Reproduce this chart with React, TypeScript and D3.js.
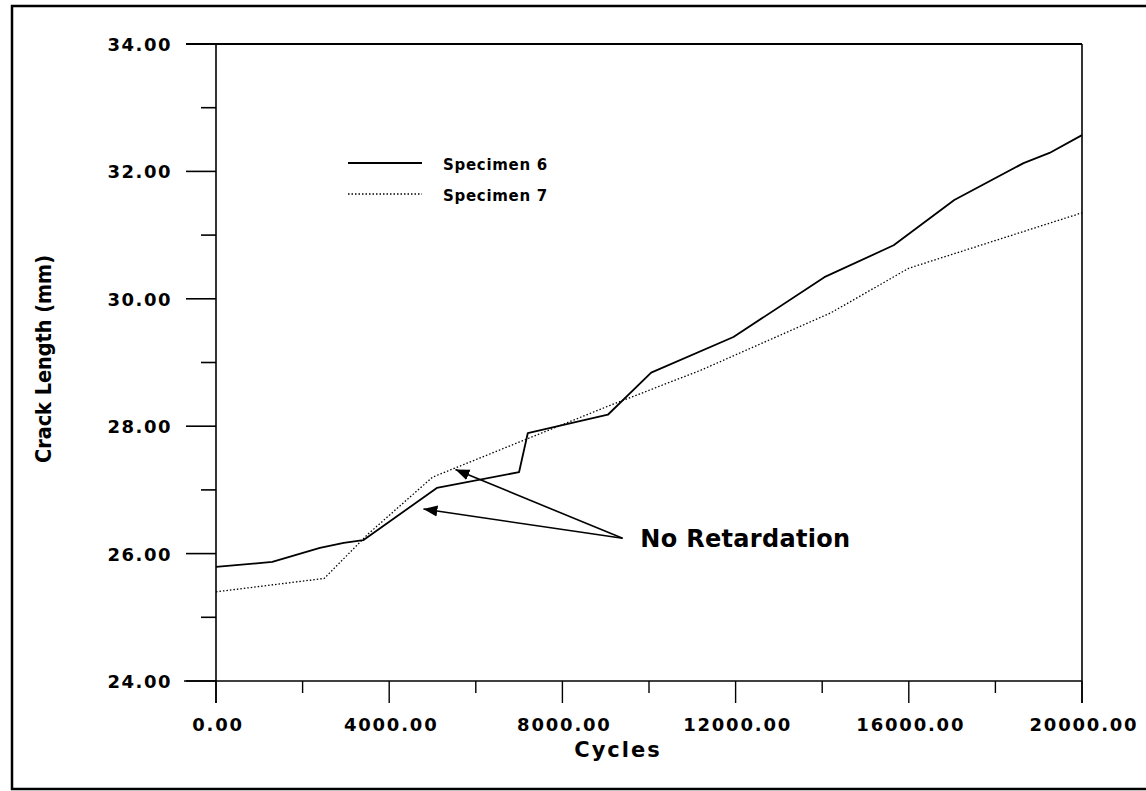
import React from 'react';
import * as d3 from 'd3';

// Specimen 6 (solid)
const cycles6 = [0, 1300, 2400, 2950, 3400, 5100, 7000, 7200, 9050, 10050, 11950, 14050, 15650, 17050, 18650, 19250, 20000];
const crack6 = [25.79, 25.87, 26.09, 26.17, 26.21, 27.03, 27.28, 27.89, 28.18, 28.84, 29.4, 30.34, 30.84, 31.55, 32.13, 32.29, 32.57];

// Specimen 7 (dotted)
const cycles7 = [0, 2500, 3500, 5000, 9000, 11200, 14200, 16000, 20000];
const crack7 = [25.4, 25.61, 26.3, 27.2, 28.3, 28.88, 29.78, 30.48, 31.35];

const xMajor = [0, 4000, 8000, 12000, 16000, 20000];
const xMinor = [2000, 6000, 10000, 14000, 18000];
const yMajor = [24, 26, 28, 30, 32, 34];
const yMinor = [25, 27, 29, 31, 33];

const legendNames = ['Specimen 6', 'Specimen 7'];

// annotation: arrow tips (cycles, mm) and the shared tail
const arrowTips: [number, number][] = [[5530, 27.32], [4790, 26.7]];
const arrowTail: [number, number] = [9390, 26.24];
const noteAt: [number, number] = [9800, 26.1];

const W = 1146;
const H = 791;
const FONT = '"DejaVu Sans", Arial, sans-serif';

export default function App() {
  const x = d3.scaleLinear().domain([0, 20000]).range([216, 1082]);
  const y = d3.scaleLinear().domain([24, 34]).range([681, 44]);

  const line = d3
    .line<[number, number]>()
    .x(d => x(d[0]))
    .y(d => y(d[1]));

  const pts6 = cycles6.map((c, i) => [c, crack6[i]] as [number, number]);
  const pts7 = cycles7.map((c, i) => [c, crack7[i]] as [number, number]);

  const [x0, x1] = x.range();
  const [y0, y1] = y.range();

  return (
    <svg width={W} height={H} style={{ position: 'absolute', left: 0, top: 0, background: '#fff' }}>
      <defs>
        <marker id="head" viewBox="0 0 14 12" refX="0" refY="6" markerWidth="14" markerHeight="12" markerUnits="userSpaceOnUse" orient="auto">
          <path d="M0,6 L14,0.5 L14,11.5 Z" fill="#000" />
        </marker>
      </defs>

      {/* outer border (right side runs off the page) */}
      <rect x={12} y={6} width={1160} height={783} fill="none" stroke="#000" strokeWidth={2.5} />

      {/* frame */}
      <line x1={x0} x2={x0} y1={y1} y2={y0 + 22} stroke="#000" strokeWidth={1.6} />
      <line x1={x1} x2={x1} y1={y1} y2={y0 + 22} stroke="#000" strokeWidth={1.6} />
      <line x1={x0 - 30} x2={x1} y1={y1} y2={y1} stroke="#000" strokeWidth={1.8} />
      <line x1={x0 - 32} x2={x1} y1={y0} y2={y0} stroke="#000" strokeWidth={1.6} />

      {/* y ticks */}
      {yMajor.map(v => (
        <g key={'ym' + v}>
          <line x1={x0 - 30} x2={x0} y1={y(v)} y2={y(v)} stroke="#000" strokeWidth={1.6} />
          <text x={172} y={y(v) + 7} textAnchor="end" fontFamily={FONT} fontWeight="bold" fontSize={18} letterSpacing={1.5}>
            {v.toFixed(2)}
          </text>
        </g>
      ))}
      {yMinor.map(v => (
        <line key={'yn' + v} x1={x0 - 15} x2={x0} y1={y(v)} y2={y(v)} stroke="#000" strokeWidth={1.6} />
      ))}

      {/* x ticks */}
      {xMajor.map(v => (
        <g key={'xm' + v}>
          <line x1={x(v)} x2={x(v)} y1={y0} y2={y0 + 22} stroke="#000" strokeWidth={1.4} />
          <text x={x(v) + 2} y={731} textAnchor="middle" fontFamily={FONT} fontWeight="bold" fontSize={18} letterSpacing={1.8}>
            {v.toFixed(2)}
          </text>
        </g>
      ))}
      {xMinor.map(v => (
        <line key={'xn' + v} x1={x(v)} x2={x(v)} y1={y0} y2={y0 + 12} stroke="#000" strokeWidth={1.4} />
      ))}

      {/* axis titles */}
      <text x={618} y={757} textAnchor="middle" fontFamily={FONT} fontWeight="bold" fontSize={21} letterSpacing={2}>
        Cycles
      </text>
      <text
        transform="translate(51,359) rotate(-90)"
        textAnchor="middle"
        fontFamily={FONT}
        fontWeight="bold"
        fontSize={22}
        textLength={208}
        lengthAdjust="spacingAndGlyphs"
      >
        Crack Length (mm)
      </text>

      {/* series */}
      <path d={line(pts6) ?? ''} fill="none" stroke="#000" strokeWidth={1.8} strokeLinejoin="round" />
      <path d={line(pts7) ?? ''} fill="none" stroke="#000" strokeWidth={1.3} strokeDasharray="1.5,2" />

      {/* legend */}
      {legendNames.map((name, i) => (
        <g key={name} transform={`translate(0,${163 + i * 31})`}>
          <line
            x1={348}
            x2={422}
            y1={0}
            y2={0}
            stroke="#000"
            strokeWidth={i === 0 ? 1.8 : 1.3}
            strokeDasharray={i === 0 ? undefined : '1.5,2'}
          />
          <text x={443} y={7} fontFamily={FONT} fontWeight="bold" fontSize={15} letterSpacing={0.7}>
            {name}
          </text>
        </g>
      ))}

      {/* annotation */}
      {arrowTips.map((t, i) => (
        <line
          key={'arrow' + i}
          x1={x(t[0])}
          y1={y(t[1])}
          x2={x(arrowTail[0])}
          y2={y(arrowTail[1])}
          stroke="#000"
          strokeWidth={1.6}
          markerStart="url(#head)"
        />
      ))}
      <text x={x(noteAt[0])} y={y(noteAt[1])} fontFamily={FONT} fontWeight="bold" fontSize={24} letterSpacing={0.3}>
        No Retardation
      </text>
    </svg>
  );
}
